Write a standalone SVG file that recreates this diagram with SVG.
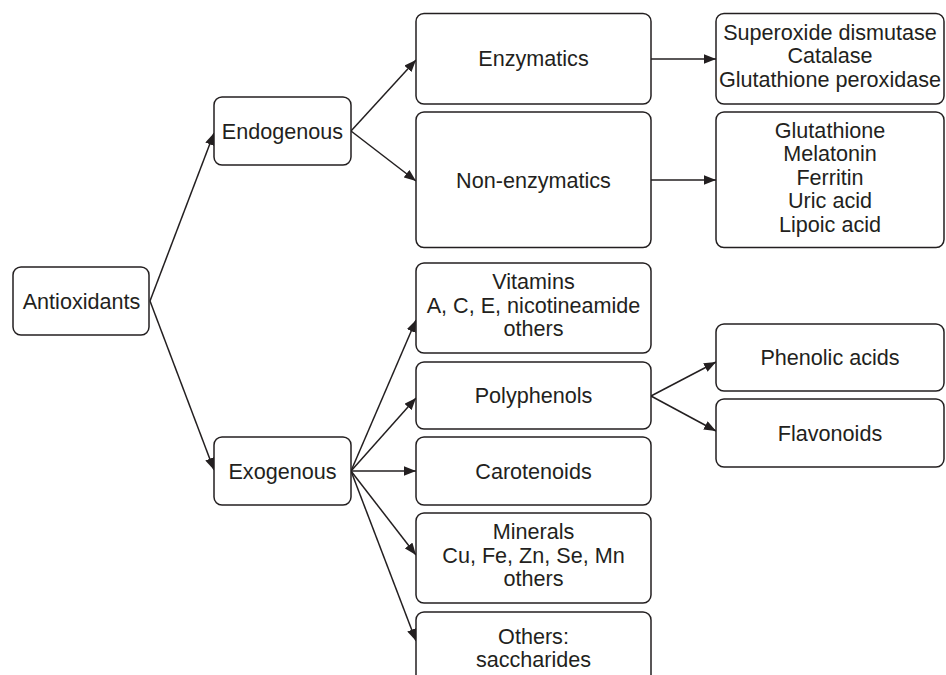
<svg xmlns="http://www.w3.org/2000/svg" width="946" height="675" viewBox="0 0 946 675">
<defs>
<marker id="ah" markerUnits="userSpaceOnUse" markerWidth="14" markerHeight="10" refX="12" refY="4.75" orient="auto" viewBox="0 0 14 10">
<path d="M0,0 L12,4.75 L0,9.5 Z" fill="#231f20"/>
</marker>
<style>
.box{fill:#fff;stroke:#231f20;stroke-width:1.5}
.t{font-family:"Liberation Sans",Arial,sans-serif;font-size:21.6px;fill:#231f20;text-anchor:middle}
.c line{stroke:#231f20;stroke-width:1.5;marker-end:url(#ah)}
</style>
</defs>
<rect width="946" height="675" fill="#fff"/>
<g id="connectors" class="c">
<line x1="150" y1="301" x2="214" y2="133"/>
<line x1="150" y1="301" x2="214" y2="470"/>
<line x1="351" y1="131" x2="416" y2="60"/>
<line x1="351" y1="131" x2="416" y2="181"/>
<line x1="651" y1="59" x2="716" y2="59"/>
<line x1="651" y1="180" x2="716" y2="180"/>
<line x1="351" y1="471" x2="416" y2="320"/>
<line x1="351" y1="471" x2="416" y2="398"/>
<line x1="351" y1="471" x2="416" y2="471"/>
<line x1="351" y1="471" x2="416" y2="555"/>
<line x1="351" y1="471" x2="416" y2="641"/>
<line x1="651" y1="396" x2="716" y2="362"/>
<line x1="651" y1="396" x2="716" y2="431"/>
</g>
<g id="antioxidants"><rect class="box" x="13" y="267" width="136" height="68" rx="8"/><text class="t" x="81.5" y="308.5">Antioxidants</text></g>
<g id="endogenous"><rect class="box" x="214" y="97" width="137" height="68" rx="8"/><text class="t" x="282.5" y="138.5">Endogenous</text></g>
<g id="exogenous"><rect class="box" x="214" y="437" width="137" height="68" rx="8"/><text class="t" x="282.5" y="478.5">Exogenous</text></g>
<g id="enzymatics"><rect class="box" x="416" y="13.5" width="235" height="90.5" rx="8"/><text class="t" x="533.5" y="66">Enzymatics</text></g>
<g id="non-enzymatics"><rect class="box" x="416" y="112" width="235" height="135.5" rx="8"/><text class="t" x="533.5" y="187.5">Non-enzymatics</text></g>
<g id="enzymes"><rect class="box" x="716" y="13.5" width="228" height="90.5" rx="8"/><text class="t" x="830" y="39.5">Superoxide dismutase</text><text class="t" x="830" y="63">Catalase</text><text class="t" x="830" y="86.5">Glutathione peroxidase</text></g>
<g id="non-enzymes"><rect class="box" x="716" y="112" width="228" height="135.5" rx="8"/><text class="t" x="830" y="137.5">Glutathione</text><text class="t" x="830" y="161">Melatonin</text><text class="t" x="830" y="184.5">Ferritin</text><text class="t" x="830" y="208">Uric acid</text><text class="t" x="830" y="231.5">Lipoic acid</text></g>
<g id="vitamins"><rect class="box" x="416" y="263" width="235" height="90" rx="8"/><text class="t" x="533.5" y="289">Vitamins</text><text class="t" x="533.5" y="312.5">A, C, E, nicotineamide</text><text class="t" x="533.5" y="336">others</text></g>
<g id="polyphenols"><rect class="box" x="416" y="362" width="235" height="67" rx="8"/><text class="t" x="533.5" y="403">Polyphenols</text></g>
<g id="carotenoids"><rect class="box" x="416" y="437" width="235" height="68" rx="8"/><text class="t" x="533.5" y="478.5">Carotenoids</text></g>
<g id="minerals"><rect class="box" x="416" y="513" width="235" height="90" rx="8"/><text class="t" x="533.5" y="539">Minerals</text><text class="t" x="533.5" y="562.5">Cu, Fe, Zn, Se, Mn</text><text class="t" x="533.5" y="586">others</text></g>
<g id="others"><rect class="box" x="416" y="612" width="235" height="80" rx="8"/><text class="t" x="533.5" y="643.5">Others:</text><text class="t" x="533.5" y="666.5">saccharides</text></g>
<g id="phenolic-acids"><rect class="box" x="716" y="324" width="228" height="67" rx="8"/><text class="t" x="830" y="365">Phenolic acids</text></g>
<g id="flavonoids"><rect class="box" x="716" y="399" width="228" height="68" rx="8"/><text class="t" x="830" y="440.5">Flavonoids</text></g>
</svg>
